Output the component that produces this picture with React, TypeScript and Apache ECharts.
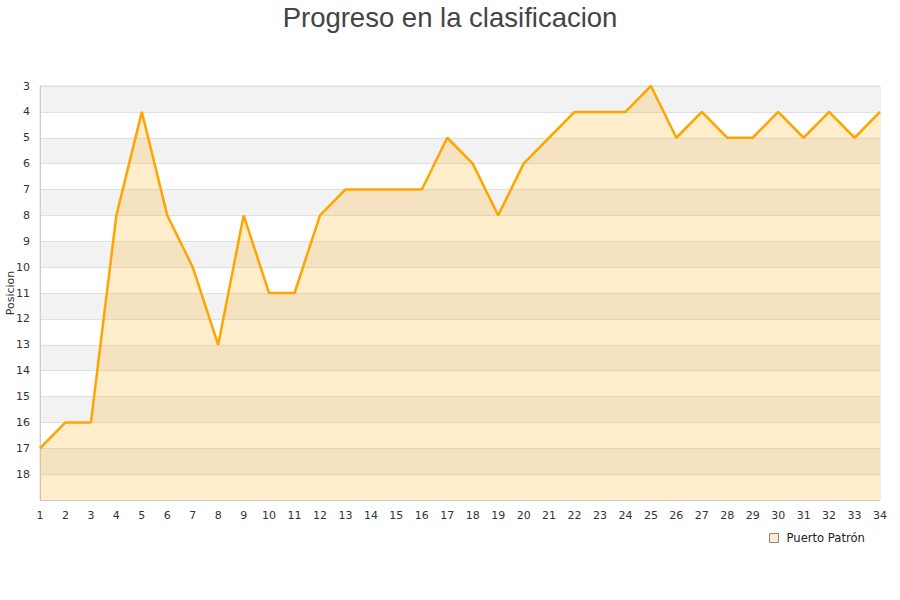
import React, { useEffect, useRef } from "react";
import * as echarts from "echarts";

const jornadas = ["1","2","3","4","5","6","7","8","9","10","11","12","13","14","15","16","17","18","19","20","21","22","23","24","25","26","27","28","29","30","31","32","33","34"];
const posiciones = [17,16,16,8,4,8,10,13,8,11,11,8,7,7,7,7,5,6,8,6,5,4,4,4,3,5,4,5,5,4,5,4,5,4];
const seriesName = "Puerto Patrón";
const titleText = "Progreso en la clasificacion";
const yName = "Posicion";

export default function App() {
  const ref = useRef<HTMLDivElement>(null);
  useEffect(() => {
    const chart = echarts.init(ref.current!, null, { renderer: "svg" });
    chart.setOption({
      animation: false,
      backgroundColor: "#ffffff",
      title: {
        text: titleText,
        left: "center",
        top: -2,
        textStyle: { fontFamily: "Liberation Sans", fontSize: 27.5, fontWeight: "normal", color: "#444444" },
      },
      grid: { left: 40, right: 20, top: 86, bottom: 100, show: true, borderColor: "#dddddd", borderWidth: 1, backgroundColor: "transparent", containLabel: false, outerBoundsMode: "none" },
      legend: {
        data: [{ name: seriesName, icon: "rect", itemStyle: { color: "#ffedcc", borderColor: "#888888", borderWidth: 1 } }],
        left: 764,
        top: 527,
        itemWidth: 9,
        itemHeight: 9,
        itemGap: 8,
        textStyle: { fontFamily: "DejaVu Sans", fontSize: 11.6, color: "#222222", padding: [0, 0, 0, 3] },
      },
      xAxis: {
        type: "category",
        data: jornadas,
        boundaryGap: false,
        axisLine: { show: true, lineStyle: { color: "#cccccc" } },
        axisTick: { show: false },
        axisLabel: { fontFamily: "DejaVu Sans", fontSize: 11, color: "#333333", margin: 10, interval: 0 },
        splitLine: { show: false },
      },
      yAxis: {
        type: "value",
        inverse: true,
        min: 3,
        max: 19,
        interval: 1,
        name: yName,
        nameLocation: "middle",
        nameGap: 24,
        nameMoveOverlap: false,
        nameRotate: 90,
        nameTextStyle: { fontFamily: "DejaVu Sans", fontSize: 11, color: "#333333" },
        axisLine: { show: true, lineStyle: { color: "#cccccc" } },
        axisTick: { show: false },
        axisLabel: {
          fontFamily: "DejaVu Sans",
          fontSize: 11,
          color: "#333333",
          margin: 10,
          formatter: (v: number) => (v === 19 ? "" : String(v)),
        },
        splitLine: { show: true, lineStyle: { color: "#e0e0e0", width: 1 } },
        splitArea: { show: true, areaStyle: { color: ["#f2f2f2", "#ffffff"] } },
      },
      series: [
        {
          name: seriesName,
          type: "line",
          data: posiciones,
          symbol: "none",
          lineStyle: { color: "#ffa500", width: 2.5 },
          itemStyle: { color: "#ffa500" },
          areaStyle: { color: "rgba(255,165,0,0.2)", opacity: 1, origin: "end" },
        },
      ],
    });
    return () => chart.dispose();
  }, []);
  return <div ref={ref} style={{ width: 900, height: 600, position: "absolute", left: 0, top: 0 }} />;
}
